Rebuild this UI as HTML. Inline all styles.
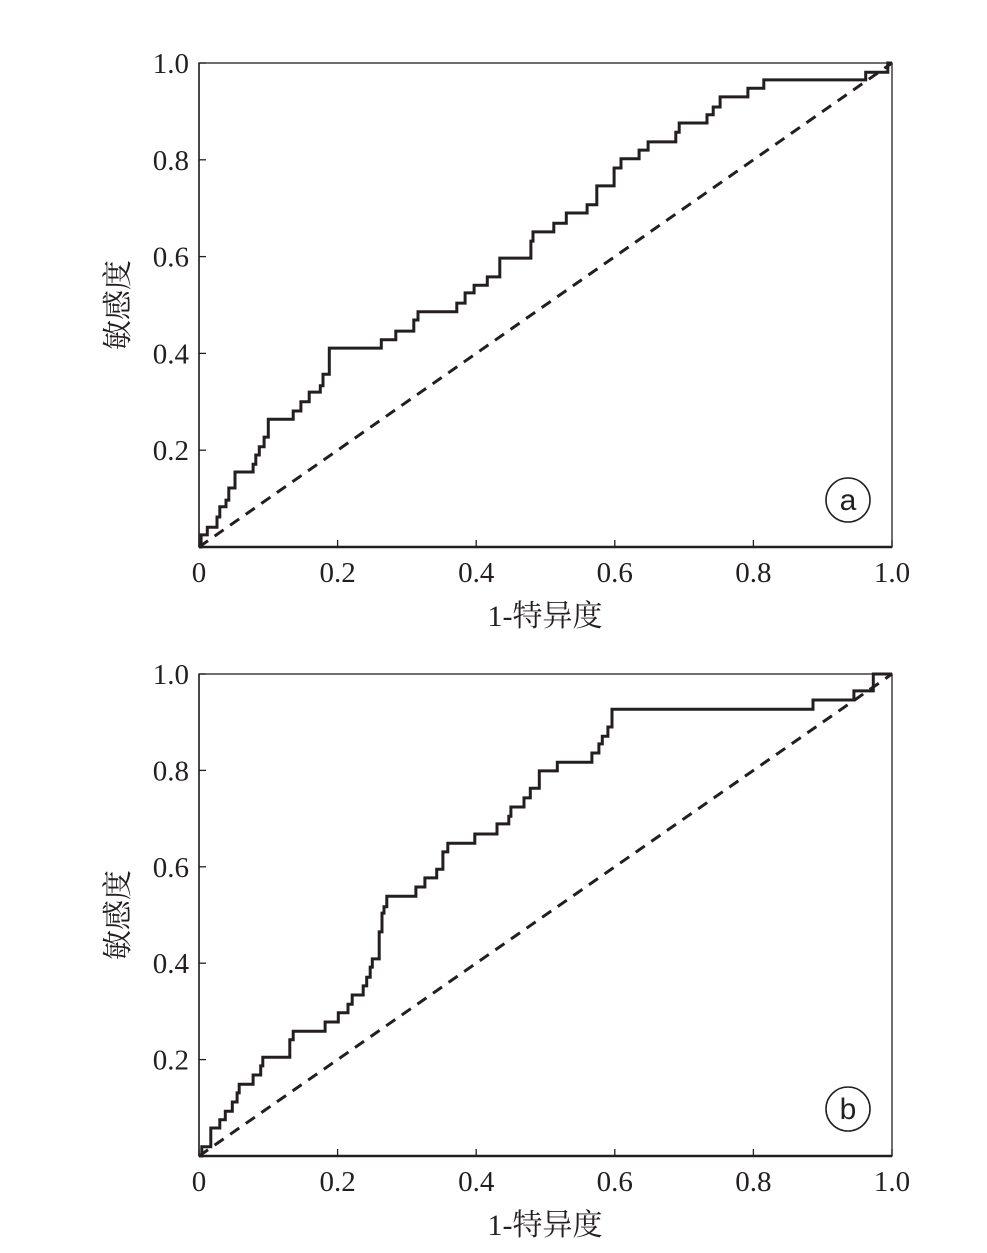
<!DOCTYPE html>
<html><head><meta charset="utf-8"><style>
html,body{margin:0;padding:0;background:#fff;}
svg{display:block;}
text{font-family:"Liberation Serif","Noto Serif CJK SC",serif;fill:#231f20;}
</style></head><body>
<svg id="chart" width="987" height="1253" viewBox="0 0 987 1253" xmlns="http://www.w3.org/2000/svg"></svg>
<script>
const ticks = [0, 0.2, 0.4, 0.6, 0.8, 1.0];
const tickLabels = ["0", "0.2", "0.4", "0.6", "0.8", "1.0"];
const yTickLabels = ["", "0.2", "0.4", "0.6", "0.8", "1.0"];
const fprA = [0.003,0.012,0.026,0.030,0.039,0.043,0.052,0.078,0.082,0.087,0.094,0.100,0.136,0.147,0.159,0.175,0.179,0.188,0.263,0.284,0.310,0.316,0.372,0.384,0.397,0.416,0.434,0.479,0.482,0.512,0.530,0.560,0.574,0.599,0.609,0.635,0.648,0.688,0.693,0.733,0.742,0.752,0.792,0.815,0.962,0.994,1.0];
const tprA = [0.025,0.041,0.062,0.083,0.097,0.122,0.155,0.171,0.190,0.207,0.227,0.264,0.281,0.300,0.320,0.333,0.357,0.411,0.428,0.446,0.469,0.486,0.504,0.525,0.541,0.558,0.597,0.632,0.651,0.669,0.690,0.707,0.746,0.783,0.802,0.820,0.837,0.857,0.876,0.893,0.909,0.930,0.948,0.965,0.981,1.0,1.0];
const fprB = [0.004,0.017,0.030,0.038,0.048,0.055,0.058,0.078,0.089,0.092,0.131,0.136,0.182,0.201,0.215,0.221,0.237,0.242,0.247,0.250,0.260,0.264,0.267,0.271,0.313,0.326,0.343,0.352,0.359,0.398,0.430,0.447,0.450,0.469,0.478,0.491,0.517,0.567,0.577,0.582,0.590,0.596,0.886,0.945,0.973,1.0];
const tprB = [0.019,0.058,0.075,0.093,0.112,0.131,0.149,0.168,0.187,0.205,0.241,0.259,0.278,0.297,0.315,0.334,0.353,0.371,0.392,0.409,0.465,0.504,0.517,0.539,0.558,0.577,0.595,0.631,0.649,0.668,0.689,0.705,0.724,0.743,0.763,0.799,0.817,0.836,0.855,0.871,0.890,0.927,0.946,0.965,1.0,1.0];

const NS = "http://www.w3.org/2000/svg";
const svg = document.getElementById("chart");
function mk(tag, attrs, parent) {
  const e = document.createElementNS(NS, tag);
  for (const k in attrs) e.setAttribute(k, attrs[k]);
  (parent || svg).appendChild(e);
  return e;
}
function panel(id, top, bottom, fpr, tpr, letter) {
  const L = 199, R = 892;
  const sx = v => L + v * (R - L);
  const sy = v => bottom - v * (bottom - top);
  const g = mk("g", {});
  
  
  const frame = mk("rect", {x: L, y: top, width: R - L, height: bottom - top, fill: "none", stroke: "#231f20", "stroke-width": 1.3}, g);
  
  
  mk("line", {x1: L, y1: bottom, x2: R, y2: bottom, stroke: "#231f20", "stroke-width": 2.5}, g);
  mk("line", {x1: L, y1: top, x2: L, y2: bottom, stroke: "#231f20", "stroke-width": 1.5}, g);
  ticks.forEach((t, i) => {
    const xt = mk("line", {x1: sx(t), y1: bottom, x2: sx(t), y2: bottom - 7, stroke: "#231f20", "stroke-width": 1.3}, g);
    
    
    const xl = mk("text", {x: sx(t), y: bottom + 35, "font-size": 29, "text-anchor": "middle"}, g);
    xl.textContent = tickLabels[i];
    
    
    const yt = mk("line", {x1: L, y1: sy(t), x2: L + 7, y2: sy(t), stroke: "#231f20", "stroke-width": 1.3}, g);
    
    
    if (yTickLabels[i]) {
      const yl = mk("text", {x: L - 10, y: sy(t) + 10, "font-size": 29, "text-anchor": "end"}, g);
      yl.textContent = yTickLabels[i];
      
      
    }
  });
  const xt = mk("text", {x: 545, y: bottom + 79, "font-size": 30, "text-anchor": "middle"}, g);
  xt.textContent = "1-特异度";
  
  
  const cy = (top + bottom) / 2;
  const yt = mk("text", {x: 0, y: 0, "font-size": 30, "text-anchor": "middle", transform: "translate(128," + cy + ") rotate(-90)"}, g);
  yt.textContent = "敏感度";
  
  
  const ref = mk("line", {x1: sx(0), y1: sy(0), x2: sx(1), y2: sy(1), stroke: "#231f20", "stroke-width": 3, "stroke-dasharray": "11 8"}, g);
  
  
  let d = "M" + sx(0) + "," + sy(0);
  for (let i = 0; i < fpr.length; i++) {
    d += " H" + sx(fpr[i]).toFixed(1) + " V" + sy(tpr[i]).toFixed(1);
  }
  const curve = mk("path", {d: d, fill: "none", stroke: "#231f20", "stroke-width": 3}, g);
  
  
  const c = mk("circle", {cx: 848, cy: bottom - 47, r: 22, fill: "#fff", stroke: "#231f20", "stroke-width": 1.6}, g);
  
  
  const lt = mk("text", {x: 848, y: bottom - 37, "font-size": 30, "text-anchor": "middle", style: "font-family:'Liberation Sans',sans-serif"}, g);
  lt.textContent = letter;
  
  
}
panel("a", 63, 547, fprA, tprA, "a");
panel("b", 674, 1156, fprB, tprB, "b");
</script>
</body></html>
